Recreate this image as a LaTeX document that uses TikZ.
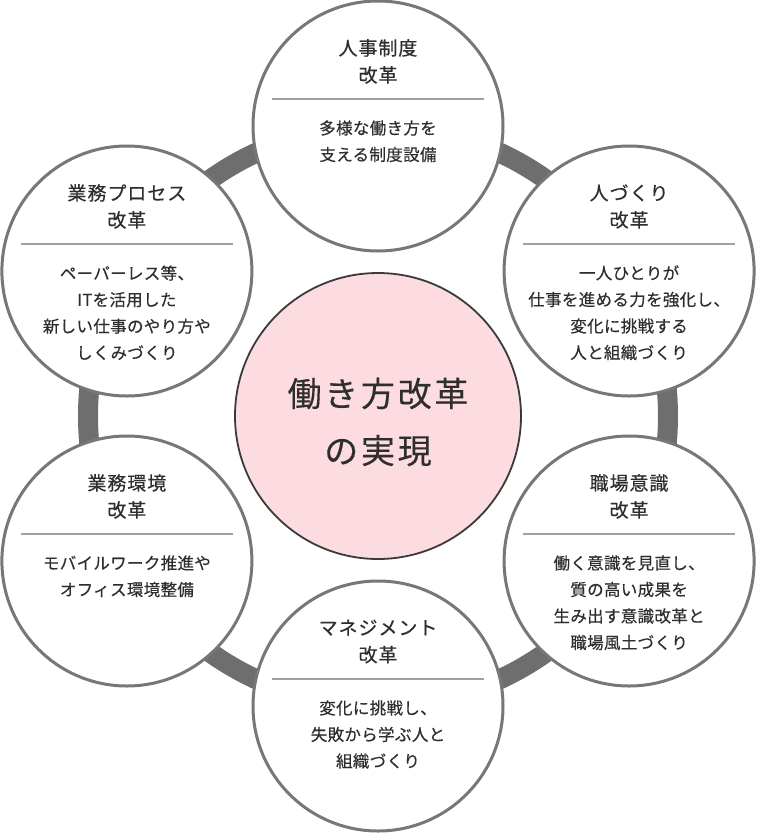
\documentclass[tikz,border=0pt]{standalone}
\usepackage{fontspec}
\setmainfont{Noto Sans CJK JP}
\newfontfamily\ttljp[LetterSpace=5,FakeBold=0.35]{Noto Sans CJK JP}
\newfontfamily\txtjp[LetterSpace=2,FakeBold=0.35]{Noto Sans CJK JP}
\newfontfamily\goaljp[LetterSpace=8,FakeBold=0.25]{Noto Sans CJK JP}
\newcommand\ttlfont{\ttljp\fontsize{19}{27}\selectfont}
\newcommand\txtfont{\txtjp\fontsize{16.5}{26.5}\selectfont}
\newcommand\goalfont{\goaljp\fontsize{34}{57}\selectfont}
\definecolor{ringgray}{HTML}{6E6E6E}
\definecolor{edgegray}{HTML}{777777}
\definecolor{rulegray}{HTML}{A0A0A0}
\definecolor{goalpink}{HTML}{FCDCE1}
\definecolor{goaledge}{HTML}{3A3A3A}
\definecolor{txt}{HTML}{2E2E2E}
\usetikzlibrary{calc}

\tikzset{
  ring/.style={draw=ringgray, line width=20pt},
  pillar/.style={circle, draw=edgegray, line width=3pt, fill=white, minimum size=250pt, inner sep=0pt},
  goalball/.style={circle, draw=goaledge, line width=1.8pt, fill=goalpink, minimum size=286pt, inner sep=0pt},
  ttl/.style={font=\ttlfont, text=txt, align=center, inner sep=0pt},
  txt/.style={font=\txtfont, text=txt, align=center, inner sep=0pt},
  rule/.style={draw=rulegray, line width=1.2pt}
}

\begin{document}
\begin{tikzpicture}[x=1pt, y=-1pt]
  \useasboundingbox (0,0) rectangle (758,836);
  \coordinate (mid) at (378,416);
  % ring behind the six themes
  \draw[ring] (mid) circle (290);

  \node[pillar] (jinji)   at (378,126) {};
  \node[pillar] (hito)    at (629.1,271) {};
  \node[pillar] (ishiki)  at (629.1,561) {};
  \node[pillar] (mgmt)    at (378,706) {};
  \node[pillar] (kankyo)  at (126.9,561) {};
  \node[pillar] (process) at (126.9,271) {};

  \node[goalball] (goal) at (mid) {};
  \node[font=\goalfont, text=txt, align=center] (goaltext) at ($(goal)+(0,6)$) {働き方改革\\の実現};

  % titles
  \node[ttl] (jinjit)   at ($(jinji)+(0,-64.5)$)   {人事制度\\改革};
  \node[ttl] (hitot)    at ($(hito)+(0,-64.5)$)    {人づくり\\改革};
  \node[ttl] (ishikit)  at ($(ishiki)+(0,-64.5)$)  {職場意識\\改革};
  \node[ttl] (mgmtt)    at ($(mgmt)+(0,-64.5)$)    {マネジメント\\改革};
  \node[ttl] (kankyot)  at ($(kankyo)+(0,-64.5)$)  {業務環境\\改革};
  \node[ttl] (processt) at ($(process)+(0,-64.5)$) {業務プロセス\\改革};

  % dividers
  \draw[rule] ($(jinji)+(-106,-27)$) -- ($(jinji)+(106,-27)$);
  \draw[rule] ($(hito)+(-106,-27)$) -- ($(hito)+(106,-27)$);
  \draw[rule] ($(ishiki)+(-106,-27)$) -- ($(ishiki)+(106,-27)$);
  \draw[rule] ($(mgmt)+(-106,-27)$) -- ($(mgmt)+(106,-27)$);
  \draw[rule] ($(kankyo)+(-106,-27)$) -- ($(kankyo)+(106,-27)$);
  \draw[rule] ($(process)+(-106,-27)$) -- ($(process)+(106,-27)$);

  % descriptions
  \node[txt] (jinjib)   at ($(jinji)+(0,15.25)$)   {多様な働き方を\\支える制度設備};
  \node[txt] (hitob)    at ($(hito)+(0,41.75)$)    {一人ひとりが\\仕事を進める力を強化し、\\変化に挑戦する\\人と組織づくり};
  \node[txt] (ishikib)  at ($(ishiki)+(0,41.75)$)  {働く意識を見直し、\\質の高い成果を\\生み出す意識改革と\\職場風土づくり};
  \node[txt] (mgmtb)    at ($(mgmt)+(0,28.5)$)     {変化に挑戦し、\\失敗から学ぶ人と\\組織づくり};
  \node[txt] (kankyob)  at ($(kankyo)+(0,15.25)$)  {モバイルワーク推進や\\オフィス環境整備};
  \node[txt] (processb) at ($(process)+(0,41.75)$) {ペーパーレス等、\\ITを活用した\\新しい仕事のやり方や\\しくみづくり};
\end{tikzpicture}
\end{document}
